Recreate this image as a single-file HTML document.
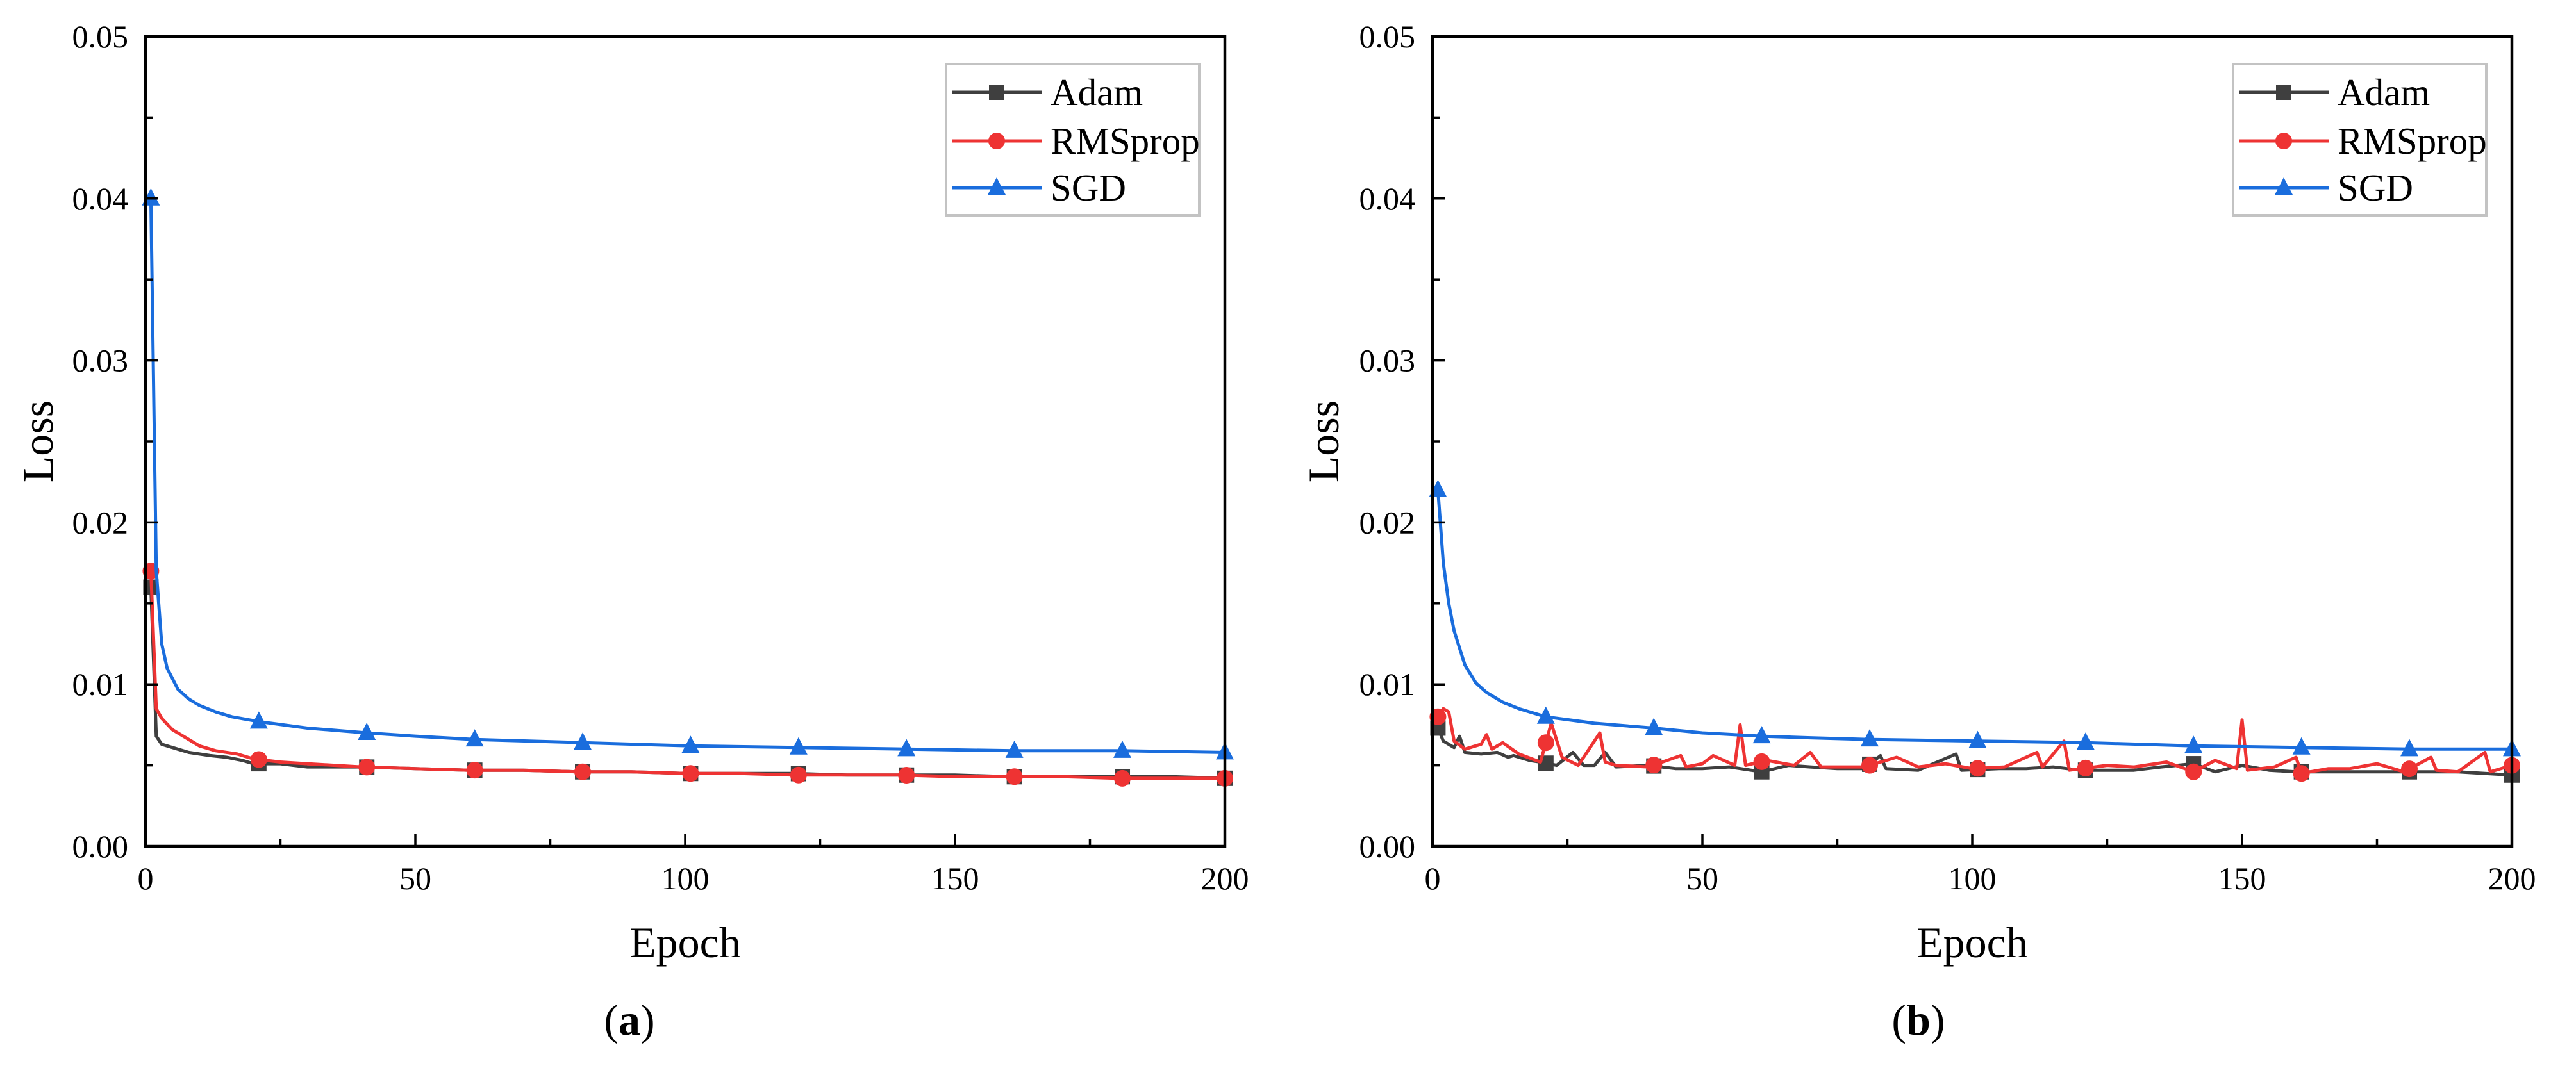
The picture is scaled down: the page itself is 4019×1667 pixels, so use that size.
<!DOCTYPE html>
<html><head><meta charset="utf-8">
<style>
html,body{margin:0;padding:0;background:#fff;}
svg{display:block;font-family:"Liberation Serif",serif;}
</style></head>
<body>
<svg id="fig" width="4019" height="1667" viewBox="0 0 4019 1667" xmlns="http://www.w3.org/2000/svg"></svg>
<script>
// ---- data ----
const xTicks = [0, 50, 100, 150, 200];
const yTicks = [0.00, 0.01, 0.02, 0.03, 0.04, 0.05];
const yTickLabels = ["0.00", "0.01", "0.02", "0.03", "0.04", "0.05"];
const markerEpochs = [1, 21, 41, 61, 81, 101, 121, 141, 161, 181, 200];
const seriesNames = ["Adam", "RMSprop", "SGD"];

const aAdamX = [1, 2, 3, 5, 8, 12, 15, 18, 20, 25, 30, 40, 50, 60, 70, 80, 90, 100, 110, 120, 130, 140, 150, 160, 170, 180, 190, 200];
const aAdamY = [0.016, 0.0068, 0.0063, 0.0061, 0.0058, 0.0056, 0.0055, 0.0053, 0.0051, 0.0051, 0.0049, 0.0049, 0.0048, 0.0047, 0.0047, 0.0046, 0.0046, 0.0045, 0.0045, 0.0045, 0.0044, 0.0044, 0.0044, 0.0043, 0.0043, 0.0043, 0.0043, 0.0042];
const aRmsX = [1, 2, 3, 5, 8, 10, 13, 17, 20, 25, 30, 40, 50, 60, 70, 80, 90, 100, 110, 120, 130, 140, 150, 160, 170, 180, 190, 200];
const aRmsY = [0.017, 0.0085, 0.0079, 0.0072, 0.0066, 0.0062, 0.0059, 0.0057, 0.0054, 0.0052, 0.0051, 0.0049, 0.0048, 0.0047, 0.0047, 0.0046, 0.0046, 0.0045, 0.0045, 0.0044, 0.0044, 0.0044, 0.0043, 0.0043, 0.0043, 0.0042, 0.0042, 0.0042];
const aSgdX = [1, 2, 3, 4, 6, 8, 10, 13, 16, 21, 30, 41, 50, 61, 81, 101, 121, 141, 161, 181, 200];
const aSgdY = [0.040, 0.017, 0.0125, 0.0110, 0.0097, 0.0091, 0.0087, 0.0083, 0.0080, 0.0077, 0.0073, 0.0070, 0.0068, 0.0066, 0.0064, 0.0062, 0.0061, 0.0060, 0.0059, 0.0059, 0.0058];

const bAdamX = [1, 2, 4, 5, 6, 9, 12, 14, 15, 18, 20, 23, 26, 28, 30, 32, 34, 40, 45, 50, 55, 61, 66, 70, 75, 80, 83, 84, 90, 97, 98, 105, 110, 115, 120, 130, 135, 141, 145, 150, 155, 160, 170, 180, 190, 200];
const bAdamY = [0.0073, 0.0065, 0.0061, 0.0068, 0.0058, 0.0057, 0.0058, 0.0055, 0.0056, 0.0053, 0.0052, 0.0050, 0.0058, 0.0050, 0.0050, 0.0058, 0.0049, 0.0050, 0.0048, 0.0048, 0.0049, 0.0046, 0.0050, 0.0049, 0.0048, 0.0048, 0.0056, 0.0048, 0.0047, 0.0057, 0.0047, 0.0048, 0.0048, 0.0049, 0.0047, 0.0047, 0.0049, 0.0051, 0.0046, 0.0050, 0.0047, 0.0046, 0.0046, 0.0046, 0.0046, 0.0044];
const bRmsX = [1, 2, 3, 4, 6, 9, 10, 11, 13, 16, 20, 22, 24, 27, 31, 32, 34, 40, 46, 47, 50, 52, 56, 57, 58, 62, 67, 70, 72, 80, 86, 90, 95, 100, 106, 112, 113, 117, 118, 125, 130, 136, 141, 145, 149, 150, 151, 156, 160, 161, 166, 170, 175, 180, 185, 186, 190, 195, 196, 200];
const bRmsY = [0.0080, 0.0085, 0.0083, 0.0065, 0.0060, 0.0063, 0.0069, 0.0060, 0.0064, 0.0057, 0.0052, 0.0076, 0.0055, 0.0050, 0.0070, 0.0052, 0.0050, 0.0049, 0.0056, 0.0049, 0.0051, 0.0056, 0.0050, 0.0075, 0.0050, 0.0053, 0.0050, 0.0058, 0.0049, 0.0049, 0.0055, 0.0049, 0.0051, 0.0048, 0.0049, 0.0058, 0.0049, 0.0065, 0.0047, 0.0050, 0.0049, 0.0052, 0.0046, 0.0053, 0.0048, 0.0078, 0.0047, 0.0049, 0.0055, 0.0045, 0.0048, 0.0048, 0.0051, 0.0046, 0.0055, 0.0047, 0.0046, 0.0058, 0.0046, 0.0050];
const bSgdX = [1, 2, 3, 4, 6, 8, 10, 13, 16, 21, 30, 41, 50, 61, 70, 81, 101, 121, 141, 161, 181, 200];
const bSgdY = [0.022, 0.0175, 0.015, 0.0133, 0.0112, 0.0101, 0.0095, 0.0089, 0.0085, 0.0080, 0.0076, 0.0073, 0.0070, 0.0068, 0.0067, 0.0066, 0.0065, 0.0064, 0.0062, 0.0061, 0.0060, 0.0060];

const colors = ["#3f3f3f", "#ee3333", "#1a6ddd"];
const svg = document.getElementById('fig');
const NS = "http://www.w3.org/2000/svg";
function mk(tag, attrs, parent){ const e=document.createElementNS(NS,tag); for(const k in attrs) e.setAttribute(k,attrs[k]); parent.appendChild(e); return e; }

function interp(xs, ys, e){
  if(e<=xs[0]) return ys[0];
  for(let i=1;i<xs.length;i++){ if(e<=xs[i]){ const t=(e-xs[i-1])/(xs[i]-xs[i-1]); return ys[i-1]+t*(ys[i]-ys[i-1]); } }
  return ys[ys.length-1];
}

function panel(id, L, label, series, legendX, titleX, lossX){
  const T=57, B=1321, R=L+1684;
  const sx = e => L + e/200*(R-L);
  const sy = v => B - v/0.05*(B-T);
  const g = mk('g',{},svg);
  
  

  series.forEach((s,i)=>{
    const sg = mk('g',{},g);
    
    
    const pts = s.x.map((e,j)=>sx(e).toFixed(1)+','+sy(s.y[j]).toFixed(1)).join(' ');
    const pl = mk('polyline',{points:pts, fill:'none', stroke:colors[i], 'stroke-width':5, 'stroke-linejoin':'round'}, sg);
    
    
    markerEpochs.forEach(e=>{
      const cx=sx(e), cy=sy(interp(s.x,s.y,e));
      const m = marker(i, cx, cy, sg);
      
      
    });
  });

  const fr = mk('rect',{x:L,y:T,width:R-L,height:B-T,fill:'none',stroke:'#000','stroke-width':4.5},g);
  
  

  xTicks.forEach(v=>{
    const x=sx(v);
    mk('line',{x1:x,y1:B,x2:x,y2:B-20,stroke:'#000','stroke-width':3.5},g);
    const t = mk('text',{x:x,y:1388,'font-size':50,'text-anchor':'middle'},g);
    t.textContent = v;
    
    
  });
  for(let v=25; v<200; v+=50){ const x=sx(v); mk('line',{x1:x,y1:B,x2:x,y2:B-11,stroke:'#000','stroke-width':3.5},g); }
  yTicks.forEach((v,i)=>{
    const y=sy(v);
    mk('line',{x1:L,y1:y,x2:L+20,y2:y,stroke:'#000','stroke-width':3.5},g);
    const t = mk('text',{x:L-27,y:y+17,'font-size':50,'text-anchor':'end'},g);
    t.textContent = yTickLabels[i];
    
    
  });
  for(let v=0.005; v<0.05; v+=0.01){ const y=sy(v); mk('line',{x1:L,y1:y,x2:L+11,y2:y,stroke:'#000','stroke-width':3.5},g); }

  const xt = mk('text',{x:(L+R)/2,y:1494,'font-size':68,'text-anchor':'middle'},g);
  xt.textContent='Epoch';
  
  
  const yt = mk('text',{x:0,y:0,'font-size':68,'text-anchor':'middle',transform:`translate(${lossX},689) rotate(-90)`},g);
  yt.textContent='Loss';
  
  
  const pt = mk('text',{x:titleX,y:1615,'font-size':68,'text-anchor':'middle'},g);
  pt.innerHTML = '(<tspan font-weight="bold">'+label+'</tspan>)';
  
  

  const lg = mk('g',{},g);
  
  
  const lb = mk('rect',{x:legendX,y:100,width:395,height:236,fill:'#fff',stroke:'#c3c3c3','stroke-width':4},lg);
  
  
  const baselines=[164,240,313];
  seriesNames.forEach((n,i)=>{
    const eg = mk('g',{},lg);
    
    
    const cy = baselines[i]-20;
    mk('line',{x1:legendX+9,y1:cy,x2:legendX+150,y2:cy,stroke:colors[i],'stroke-width':5},eg);
    marker(i, legendX+79, cy, eg);
    const t = mk('text',{x:legendX+163,y:baselines[i],'font-size':59},eg);
    t.textContent=n;
  });
}

function marker(i, cx, cy, parent){
  const c = colors[i];
  if(i===0) return mk('rect',{x:cx-12,y:cy-12,width:24,height:24,fill:c},parent);
  if(i===1) return mk('circle',{cx:cx,cy:cy,r:13,fill:c},parent);
  return mk('polygon',{points:`${cx},${cy-16} ${cx-14},${cy+11} ${cx+14},${cy+11}`,fill:c},parent);
}

panel('a', 227, 'a', [{x:aAdamX,y:aAdamY},{x:aRmsX,y:aRmsY},{x:aSgdX,y:aSgdY}], 1476, 982, 82);
panel('b', 2235, 'b', [{x:bAdamX,y:bAdamY},{x:bRmsX,y:bRmsY},{x:bSgdX,y:bSgdY}], 3484, 2993, 2088);
</script>
</body></html>
